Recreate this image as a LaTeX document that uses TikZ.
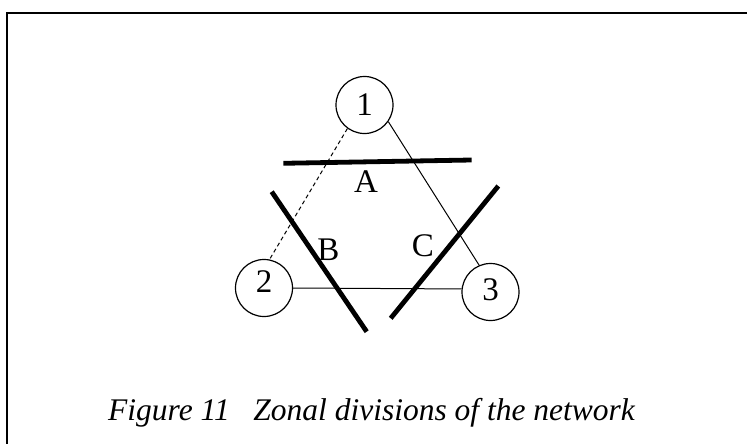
\documentclass[tikz,border=0pt]{standalone}
\usepackage{fontspec}
\setmainfont{Liberation Serif}
\begin{document}
\begin{tikzpicture}[x=1pt,y=-1pt,
  circ/.style={draw,circle,line width=1.2pt,minimum size=57pt,inner sep=0pt,font=\fontsize{33}{38}\selectfont},
  lbl/.style={anchor=base,inner sep=0pt,font=\fontsize{33}{38}\selectfont},
  edge/.style={line width=1pt},
  zone/.style={line width=4.8pt},
  frame/.style={line width=2pt}]
\useasboundingbox (0,0) rectangle (747,444);
\coordinate (fb) at (6.5,444);
\coordinate (fc) at (6.5,13);
\coordinate (fr) at (747,13);
\draw[frame] (fb) -- (fc) -- (fr);
% stations
\node[circ] (n1) at (364.5,105) {1};
\node[circ,text depth=12pt] (n2) at (264,288) {2};
\node[circ,text depth=4pt] (n3) at (490.5,292) {3};
% connections
\draw[edge,dashed,dash pattern=on 4pt off 3pt] (n1.234) -- (n2.79);
\draw[edge] (n1.325) -- (n3.113);
\draw[edge] (n2.east) -- (n3.174);
% zone divisions
\coordinate (a1) at (283.3,163.3);
\coordinate (a2) at (471.7,160);
\coordinate (b1) at (271.7,191.7);
\coordinate (b2) at (366.7,331.7);
\coordinate (c1) at (498.3,186);
\coordinate (c2) at (390.7,318.3);
\draw[zone] (a1) -- (a2);
\draw[zone] (b1) -- (b2);
\draw[zone] (c1) -- (c2);
\node[lbl] (la) at (366,192) {A};
\node[lbl] (lb) at (328.5,260) {B};
\node[lbl] (lc) at (423,256.5) {C};
% caption
\node[anchor=base west,inner sep=0pt,font=\fontsize{31.5}{37}\selectfont\itshape] (cap) at (108,420) {Figure 11\hspace{0.75em}Zonal divisions of the network};
\end{tikzpicture}
\end{document}
